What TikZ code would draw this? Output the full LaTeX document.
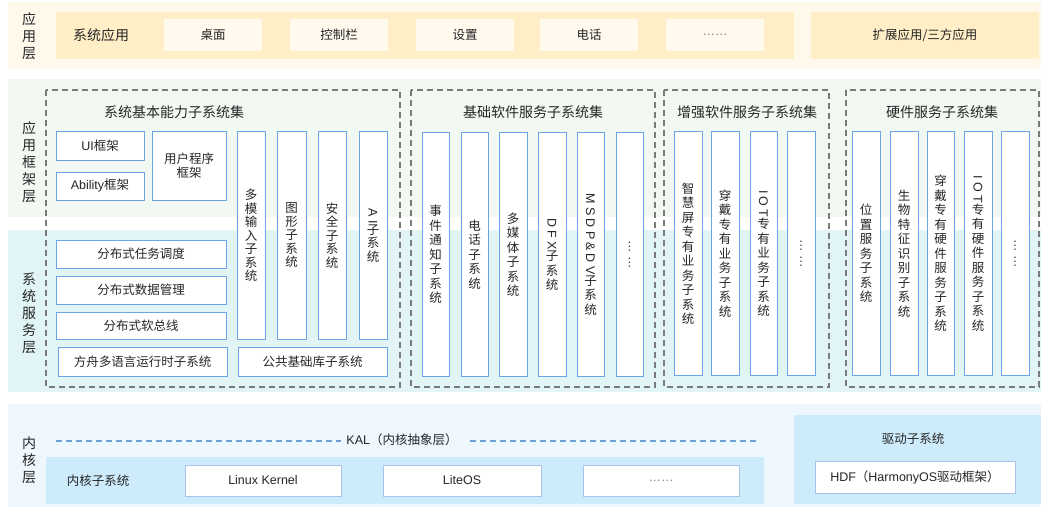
\documentclass[tikz,border=0pt]{standalone}
\usepackage{fontspec}
\usepackage{graphicx}
\setmainfont{Noto Sans CJK SC}
\newfontfamily\lat{Liberation Sans}
\newfontfamily\spc[LetterSpace=25]{Liberation Sans}
\definecolor{appbg}{HTML}{FFF9EC}
\definecolor{appbar}{HTML}{FFEEC6}
\definecolor{appin}{HTML}{FFF9EE}
\definecolor{fwbg}{HTML}{F2F9F3}
\definecolor{svcbg}{HTML}{E1F5F7}
\definecolor{kbg}{HTML}{EEF7FD}
\definecolor{kbar}{HTML}{CDEBFB}
\definecolor{bborder}{HTML}{6BA5E7}
\definecolor{kborder}{HTML}{A9C4E8}
\definecolor{dgray}{HTML}{7A7A7A}
\definecolor{kaldash}{HTML}{6B9FD6}
\definecolor{txt}{HTML}{262626}
\newcommand\bx[7][]{%
  \node[bluebox,#1,minimum width={(#5-#3)*1pt},minimum height={(#6-#4)*1pt}] (#2) at ({(#3+#5)/2},{(#4+#6)/2}) {#7};}
\newcommand\rot[1]{\rotatebox{-90}{\spc #1}}
\begin{document}
\begin{tikzpicture}[x=1pt,y=-1pt,text=txt,
  font=\fontsize{12.5}{14}\selectfont,
  bluebox/.style={draw=bborder,fill=white,line width=1pt,inner sep=0pt,outer sep=0pt,align=center},
  appbox/.style={draw=none,fill=appin},
  barbox/.style={draw=none,fill=appbar},
  kbox/.style={draw=kborder,fill=white},
  vtxt/.style={font=\fontsize{12.5}{14.5}\selectfont},
  vtxtA/.style={font=\fontsize{12.5}{13.5}\selectfont},
  lbl/.style={align=center,inner sep=0pt,font=\fontsize{14}{17}\selectfont},
  title/.style={inner sep=0pt,font=\fontsize{14}{16}\selectfont},
  dbox/.style={draw=dgray,line width=1.3pt,dash pattern=on 6pt off 4pt},
  kal/.style={draw=kaldash,line width=1.3pt,dash pattern=on 6pt off 4pt}]
\useasboundingbox (0,0) rectangle (1041,508);
% backgrounds
\fill[appbg] (8,2) rectangle (1041,69);
\fill[appbar] (56,12) rectangle (794,59);
\fill[fwbg] (8,79) rectangle (1041,217);
\fill[svcbg] (8,230) rectangle (1041,392);
\fill[kbg] (8,404) rectangle (1041,507);
\fill[kbar] (46,457) rectangle (764,504);
\fill[kbar] (794,415) rectangle (1041,504);
% layer labels
\node[lbl] (l1) at (29,36) {应\\用\\层};
\node[lbl] (l2) at (29,162) {应\\用\\框\\架\\层};
\node[lbl] (l3) at (29,313) {系\\统\\服\\务\\层};
\node[lbl] (l4) at (29,460) {内\\核\\层};
% application layer
\node[title] (sysapp) at (101,35) {系统应用};
\bx[appbox]{desk}{164}{19}{262}{51}{桌面}
\bx[appbox]{ctrl}{290}{19}{388}{51}{控制栏}
\bx[appbox]{sett}{416}{19}{514}{51}{设置}
\bx[appbox]{phone}{540}{19}{638}{51}{电话}
\bx[appbox]{more}{666}{19}{764}{51}{{\lat\color{gray}……}}
\bx[barbox]{ext}{811}{12}{1039}{59}{扩展应用/三方应用}
% dashed subsystem sets
\draw[dbox] (46,90) rectangle (400,387);
\draw[dbox] (411,90) rectangle (655,387);
\draw[dbox] (664,90) rectangle (829,387);
\draw[dbox] (846,90) rectangle (1039,387);
\node[title] (t1) at (174,112) {系统基本能力子系统集};
\node[title] (t2) at (533,112) {基础软件服务子系统集};
\node[title] (t3) at (747,112) {增强软件服务子系统集};
\node[title] (t4) at (942,112) {硬件服务子系统集};
% set 1
\bx{ui}{56}{132}{144}{160}{{\lat UI}框架}
\bx{ability}{56}{172}{144}{200}{{\lat Ability}框架}
\bx{user}{152}{132}{226}{200}{用户程序\\框架}
\bx[vtxtA]{mmi}{237}{132}{265}{339}{多\\模\\输\\入\\子\\系\\统}
\bx[vtxtA]{graph}{277}{132}{306}{339}{图\\形\\子\\系\\统}
\bx[vtxtA]{sec}{318}{132}{346}{339}{安\\全\\子\\系\\统}
\bx[vtxtA]{ai}{359}{132}{387}{339}{\rot{AI}\\子\\系\\统}
\bx{dtask}{56}{240}{226}{268}{分布式任务调度}
\bx{ddata}{56}{276}{226}{304}{分布式数据管理}
\bx{dbus}{56}{312}{226}{339}{分布式软总线}
\bx{ark}{58}{347}{227}{376}{方舟多语言运行时子系统}
\bx{base}{238}{347}{387}{376}{公共基础库子系统}
% set 2
\bx[vtxt]{evt}{422}{133}{449}{376}{事\\件\\通\\知\\子\\系\\统}
\bx[vtxt]{tel}{461}{133}{488}{376}{电\\话\\子\\系\\统}
\bx[vtxt]{media}{499}{133}{527}{376}{多\\媒\\体\\子\\系\\统}
\bx[vtxt]{dfx}{538}{133}{566}{376}{\rot{DFX}\\子\\系\\统}
\bx[vtxt]{msdp}{577}{133}{604}{376}{\rot{MSDP\&DV}\\子\\系\\统}
\bx[vtxt]{more2}{616}{133}{643}{376}{\rot{……}}
% set 3
\bx[vtxt]{smart}{674}{132}{702}{375}{智\\慧\\屏\\专\\有\\业\\务\\子\\系\\统}
\bx[vtxt]{wear}{711}{132}{739}{375}{穿\\戴\\专\\有\\业\\务\\子\\系\\统}
\bx[vtxt]{iot}{750}{132}{777}{375}{\rot{IOT}\\专\\有\\业\\务\\子\\系\\统}
\bx[vtxt]{more3}{787}{132}{815}{375}{\rot{……}}
% set 4
\bx[vtxt]{loc}{852}{132}{880}{375}{位\\置\\服\\务\\子\\系\\统}
\bx[vtxt]{bio}{890}{132}{918}{375}{生\\物\\特\\征\\识\\别\\子\\系\\统}
\bx[vtxt]{wearhw}{927}{132}{954}{375}{穿\\戴\\专\\有\\硬\\件\\服\\务\\子\\系\\统}
\bx[vtxt]{iothw}{964}{132}{992}{375}{\rot{IOT}\\专\\有\\硬\\件\\服\\务\\子\\系\\统}
\bx[vtxt]{more4}{1001}{132}{1029}{375}{\rot{……}}
% kernel layer
\node[inner sep=0pt] (kal) at (402,440) {{\lat KAL}（内核抽象层）};
\coordinate (kalL) at (56,441);
\coordinate (kalR) at (757,441);
\draw[kal] (kalL) -- ([xshift=-5pt]kal.west |- kalL);
\draw[kal] ([xshift=12pt]kal.east |- kalR) -- (kalR);
\node[inner sep=0pt] (ksub) at (98,481) {内核子系统};
\bx[kbox]{linux}{185}{465}{341}{496}{{\lat Linux Kernel}}
\bx[kbox]{liteos}{383}{465}{541}{496}{{\lat LiteOS}}
\bx[kbox]{kmore}{583}{465}{739}{496}{{\lat\color{gray}……}}
\node[inner sep=0pt] (drv) at (913,439) {驱动子系统};
\bx[kbox]{hdf}{815}{461}{1015}{493}{{\lat HDF}（{\lat HarmonyOS}驱动框架）}
\end{tikzpicture}
\end{document}
